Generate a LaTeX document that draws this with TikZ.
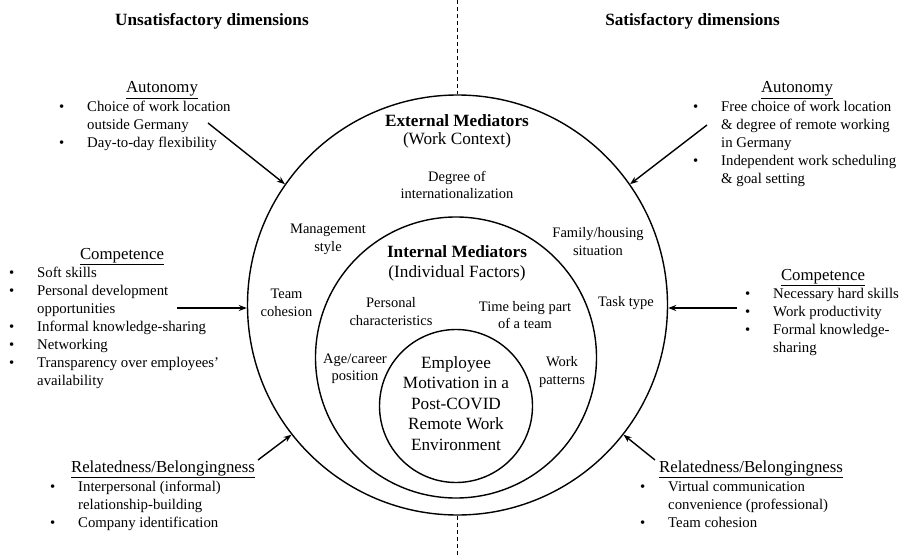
\documentclass[tikz,border=0pt]{standalone}
\usepackage{fontspec}
\setmainfont{Liberation Serif}
\usetikzlibrary{arrows.meta}
\newcommand{\blist}[1]{\begin{tabular}[t]{@{}p{28pt}@{}l@{}}#1\end{tabular}}

\begin{document}
\begin{tikzpicture}[x=1pt, y=-1pt, >={Stealth[length=8pt,width=6pt]},
    ring/.style={circle, draw, line width=1.4pt, inner sep=0pt},
    lbl/.style={align=center, anchor=base, inner sep=0pt, font=\fontsize{14.5}{17.3}\selectfont},
    mhead/.style={align=center, anchor=base, inner sep=0pt, font=\fontsize{17.2}{18.5}\selectfont},
    sidetitle/.style={anchor=base, inner sep=0pt, font=\fontsize{17.2}{20}\selectfont\bfseries},
    dhead/.style={anchor=base, inner sep=0pt, font=\fontsize{16.8}{20}\selectfont},
    dlist/.style={anchor=base west, inner sep=0pt, font=\fontsize{14.8}{18}\selectfont},
    link/.style={->, line width=1.4pt}]

    \useasboundingbox (0,0) rectangle (901,556);

    % circles
    \node[ring, minimum size=420pt] (outer) at (457.5,305) {};
    \node[ring, minimum size=281pt] (middle) at (456,357.5) {};
    \node[ring, minimum size=153pt] (inner) at (456,406) {};

    % divider
    \coordinate (divtop) at (457.5,0);
    \coordinate (divbot) at (457.5,556);
    \draw[line width=1pt, dash pattern=on 4pt off 3pt] (divtop) -- (outer.north);
    \draw[line width=1pt, dash pattern=on 4pt off 3pt] (outer.south) -- (divbot);

    \node[sidetitle] (unsat) at (212,26) {Unsatisfactory dimensions};
    \node[sidetitle] (sat) at (692.5,26) {Satisfactory dimensions};

    % circle labels (placed at the baseline of their last line)
    \node[mhead] (ext) at (457,145) {\textbf{External Mediators}\\(Work Context)};
    \node[lbl] (degree) at (457,198.5) {Degree of\\internationalization};
    \node[lbl] (mgmt) at (328,251) {Management\\style};
    \node[lbl] (family) at (598,255) {Family/housing\\situation};
    \node[mhead, font=\fontsize{17.2}{20}\selectfont] (int) at (457,277) {\textbf{Internal Mediators}\\(Individual Factors)};
    \node[lbl] (team) at (286.5,316) {Team\\cohesion};
    \node[lbl] (task) at (626,306) {Task type};
    \node[lbl] (pers) at (391,325) {Personal\\characteristics};
    \node[lbl] (time) at (525,328.5) {Time being part\\of a team};
    \node[lbl] (age) at (355,380.5) {Age/career\\position};
    \node[lbl] (work) at (562,384) {Work\\patterns};
    \node[mhead, font=\fontsize{17.2}{20.5}\selectfont] (core) at (456,450)
        {Employee\\Motivation in a\\Post-COVID\\Remote Work\\Environment};

    % unsatisfactory side
    \node[dhead] (autLh) at (162,93) {\underline{Autonomy}};
    \node[dlist] (autL) at (59,112) {\blist{\textbullet & Choice of work location\\
        & outside Germany\\ \textbullet & Day-to-day flexibility}};
    \node[dhead] (compLh) at (122,259) {\underline{Competence}};
    \node[dlist] (compL) at (9,277) {\blist{\textbullet & Soft skills\\
        \textbullet & Personal development\\ & opportunities\\
        \textbullet & Informal knowledge-sharing\\ \textbullet & Networking\\
        \textbullet & Transparency over employees'\\ & availability}};
    \node[dhead] (relLh) at (163,472) {\underline{Relatedness/Belongingness}};
    \node[dlist] (relL) at (50,491) {\blist{\textbullet & Interpersonal (informal)\\
        & relationship-building\\ \textbullet & Company identification}};

    % satisfactory side
    \node[dhead] (autRh) at (797,93) {\underline{Autonomy}};
    \node[dlist] (autR) at (693,112) {\blist{\textbullet & Free choice of work location\\
        & \& degree of remote working\\ & in Germany\\
        \textbullet & Independent work scheduling\\ & \& goal setting}};
    \node[dhead] (compRh) at (823,280) {\underline{Competence}};
    \node[dlist] (compR) at (745,298) {\blist{\textbullet & Necessary hard skills\\
        \textbullet & Work productivity\\ \textbullet & Formal knowledge-\\ & sharing}};
    \node[dhead] (relRh) at (751,472) {\underline{Relatedness/Belongingness}};
    \node[dlist] (relR) at (640,491) {\blist{\textbullet & Virtual communication\\
        & convenience (professional)\\ \textbullet & Team cohesion}};

    % arrows
    \coordinate (autLt) at (208,123);
    \coordinate (autRt) at (707,125);
    \coordinate (compLt) at (177,308);
    \coordinate (compRt) at (737,308);
    \coordinate (relLt) at (258,460);
    \coordinate (relRt) at (655,460);

    \draw[link] (autLt) -- (outer.145);
    \draw[link] (autRt) -- (outer.35);
    \draw[link] (compLt) -- (compLt -| outer.west);
    \draw[link] (compRt) -- (compRt -| outer.east);
    \draw[link] (relLt) -- (outer.218);
    \draw[link] (relRt) -- (outer.322);

\end{tikzpicture}
\end{document}
